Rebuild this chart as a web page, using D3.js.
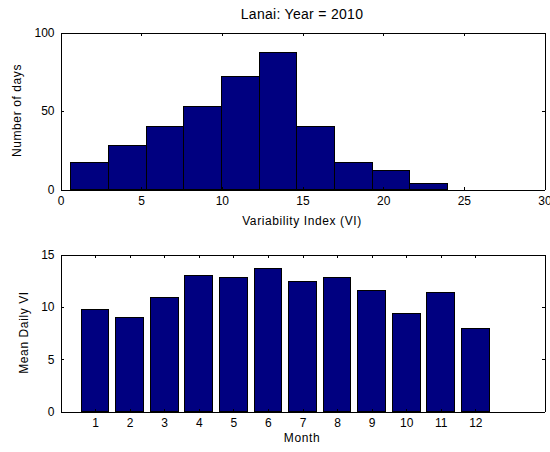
<!DOCTYPE html>
<html>
<head>
<meta charset="utf-8">
<script src="https://cdn.jsdelivr.net/npm/d3@7"></script>
<style>
  body { margin: 0; background: #fff; }
  svg { display: block; font-family: "Liberation Sans", Arial, sans-serif; }
  .axis path, .axis line { stroke: #000; stroke-width: 1; shape-rendering: crispEdges; }
  .axis text { fill: #000; font-size: 12px; }
  .lbl { font-size: 12px; letter-spacing: 0.6px; fill: #000; }
</style>
</head>
<body>
<div id="chart"></div>
<script>
// histogram of the variability index
var binEdges = [0.62, 2.96, 5.30, 7.63, 9.97, 12.31, 14.65, 16.99, 19.32, 21.66, 24.0];
var binCounts = [17, 28, 40, 53, 72, 87, 40, 17, 12, 4];
var viTicks = [0, 5, 10, 15, 20, 25, 30];
var dayTicks = [0, 50, 100];

// monthly mean of the daily VI
var months = [1, 2, 3, 4, 5, 6, 7, 8, 9, 10, 11, 12];
var meanVI = [9.7, 9.0, 10.9, 12.95, 12.8, 13.65, 12.4, 12.8, 11.55, 9.4, 11.35, 7.9];
var meanTicks = [0, 5, 10, 15];

var W = 550, H = 452;
var PLOT = {left: 60, width: 484, height: 157};
var TOP1 = 32, TOP2 = 254;
var NAVY = "#000080";

var svg = d3.select("#chart").append("svg")
  .attr("width", W).attr("height", H);

// draws a boxed MATLAB-style frame with inward ticks on all four sides
function drawFrame(g, x, y, xTicks, yTicks) {
  var h = PLOT.height, w = PLOT.width;
  g.append("g").attr("class", "axis")
    .attr("transform", "translate(0," + h + ")")
    .call(d3.axisBottom(x).tickValues(xTicks).tickSizeInner(-3).tickSizeOuter(0).tickPadding(7));
  g.append("g").attr("class", "axis")
    .call(d3.axisTop(x).tickValues(xTicks).tickSizeInner(-3).tickSizeOuter(0).tickFormat(""));
  g.append("g").attr("class", "axis")
    .call(d3.axisLeft(y).tickValues(yTicks).tickSizeInner(-3).tickSizeOuter(0).tickPadding(6));
  g.append("g").attr("class", "axis")
    .attr("transform", "translate(" + w + ",0)")
    .call(d3.axisRight(y).tickValues(yTicks).tickSizeInner(-3).tickSizeOuter(0).tickFormat(""));
  g.selectAll(".axis").attr("font-family", null).attr("font-size", null);
}

// ---- top: histogram
var g1 = svg.append("g").attr("transform", "translate(" + (PLOT.left + 0.5) + "," + (TOP1 + 0.5) + ")");
var x1 = d3.scaleLinear().domain([0, 30]).range([0, PLOT.width]);
var y1 = d3.scaleLinear().domain([0, 100]).range([PLOT.height, 0]);

g1.selectAll("rect").data(binCounts).enter().append("rect")
  .attr("x", function(d, i) { return x1(binEdges[i]); })
  .attr("width", function(d, i) { return x1(binEdges[i + 1]) - x1(binEdges[i]); })
  .attr("y", function(d) { return y1(d); })
  .attr("height", function(d) { return y1(0) - y1(d); })
  .attr("fill", NAVY).attr("stroke", "#000").attr("stroke-width", 1)
  .attr("shape-rendering", "crispEdges");

drawFrame(g1, x1, y1, viTicks, dayTicks);

svg.append("text").attr("x", PLOT.left + PLOT.width / 2).attr("y", 19)
  .attr("text-anchor", "middle").attr("font-size", 14).attr("letter-spacing", 0.3)
  .text("Lanai: Year = 2010");
svg.append("text").attr("class", "lbl").attr("x", PLOT.left + PLOT.width / 2).attr("y", 225)
  .attr("text-anchor", "middle").text("Variability Index (VI)");
svg.append("text").attr("class", "lbl")
  .attr("transform", "translate(21," + (TOP1 + PLOT.height / 2) + ") rotate(-90)")
  .attr("text-anchor", "middle").text("Number of days");

// ---- bottom: monthly bars
var g2 = svg.append("g").attr("transform", "translate(" + (PLOT.left + 0.5) + "," + (TOP2 + 0.5) + ")");
var x2 = d3.scaleLinear().domain([0, 14]).range([0, PLOT.width]);
var y2 = d3.scaleLinear().domain([0, 15]).range([PLOT.height, 0]);

g2.selectAll("rect").data(meanVI).enter().append("rect")
  .attr("x", function(d, i) { return x2(months[i] - 0.4); })
  .attr("width", x2(0.8) - x2(0))
  .attr("y", function(d) { return y2(d); })
  .attr("height", function(d) { return y2(0) - y2(d); })
  .attr("fill", NAVY).attr("stroke", "#000").attr("stroke-width", 1)
  .attr("shape-rendering", "crispEdges");

drawFrame(g2, x2, y2, months, meanTicks);

svg.append("text").attr("class", "lbl").attr("x", PLOT.left + PLOT.width / 2).attr("y", 442)
  .attr("text-anchor", "middle").text("Month");
svg.append("text").attr("class", "lbl")
  .attr("transform", "translate(28," + (TOP2 + PLOT.height / 2) + ") rotate(-90)")
  .attr("text-anchor", "middle").text("Mean Daily VI");
</script>
</body>
</html>
